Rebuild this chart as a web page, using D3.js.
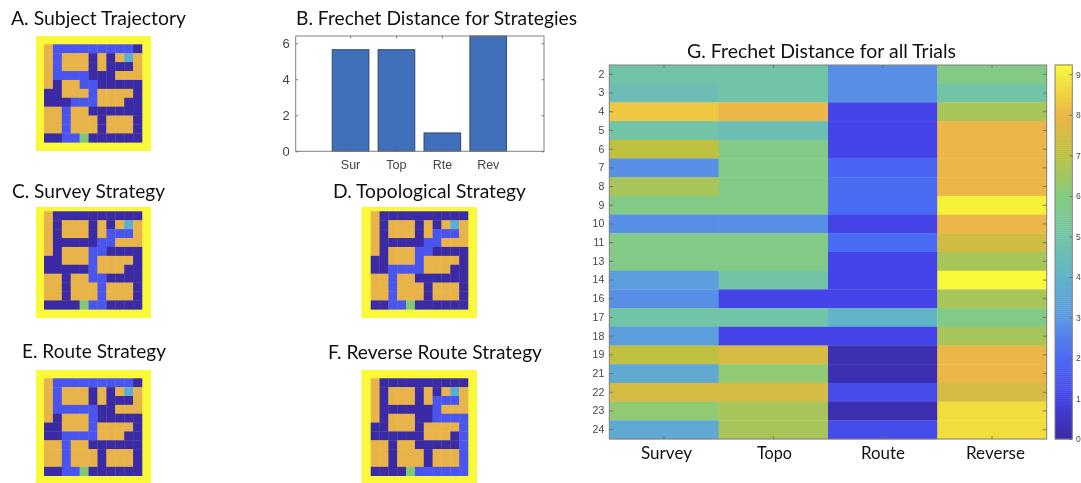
<!DOCTYPE html>
<html><head><meta charset="utf-8">
<script src="https://cdn.jsdelivr.net/npm/d3@7/dist/d3.min.js"></script>
<style>html,body{margin:0;padding:0;background:#fff;overflow:hidden}svg{display:block;filter:blur(.4px)}
.ax text{font-family:"Liberation Sans",Arial,sans-serif;fill:#444}
.ttl{font-family:Lato,sans-serif;fill:#111}</style>
</head><body><svg id="c" width="1081" height="483"></svg>
<script>
// ---- data ----
const baseMap = [
 "ODDDDDDDDDD",
 "ODOOODODOGO",
 "ODOOODODDDO",
 "ODDDDDDDOOO",
 "ODOOODDDDDD",
 "DDOOODOOOOD",
 "DDDDDDOOODD",
 "OODOODDDDDD",
 "OODOOODOOOD",
 "OODOOODOOOD",
 "DDDDSDDDDDD"];
// path runs: row, first column, last column
const pathA = [[0,1,9],[1,1,1],[2,1,1],[3,1,4],[4,4,5],[5,5,5],[6,3,5],[7,2,2],[8,2,2],[9,2,2],[10,2,3]];
const pathC = [[2,7,9],[3,6,7],[4,5,6],[5,5,5],[6,5,5],[7,5,6],[8,6,6],[9,6,6],[10,5,6]];
const pathD = [[2,7,9],[3,6,7],[4,5,6],[5,5,5],[6,2,5],[7,2,2],[8,2,2],[9,2,2],[10,2,3]];
const pathE = [[0,1,9],[1,1,1],[2,1,1],[3,1,5],[4,5,5],[5,5,5],[6,2,5],[7,2,2],[8,2,2],[9,2,2],[10,2,3]];
const pathF = [[2,7,9],[3,7,7],[4,7,10],[5,10,10],[6,10,10],[7,10,10],[8,10,10],[9,10,10],[10,5,10]];

const barCats = ["Sur","Top","Rte","Rev"];
const barVals = [5.64,5.64,1.02,6.4];
const barTicks = [0,2,4,6];

const trials = ["2","3","4","5","6","7","8","9","10","11","13","14","16","17","18","19","21","22","23","24"];
const strategies = ["Survey","Topo","Route","Reverse"];
const survey  = [5,4.6,8.3,5,7,2.8,6.6,5.8,2.8,5.8,5.8,3.2,2.8,5,3.2,7,3.6,7.5,6.2,3.6];
const topo    = [5,5,8,4.6,5.8,5.8,5.8,5.8,2.8,5.8,5.8,5,1,5,1,7.5,6.2,7.5,6.6,6.6];
const route   = [2.8,2.8,1,1,1,1.8,2,2,1,2,1,1,1,4,1,.2,.2,1.2,.2,1.2];
const reverse = [5.8,5,6.6,8,8,8,8,9.1,8,7.4,6.6,9.25,6.6,5.8,6.6,8,8,7.5,8.7,8.7];
const cbTicks = [0,1,2,3,4,5,6,7,8,9];
const cbStops = [0,1,2,3,4,5,6,7,8,9,9.25];
const cbCols = ["#3a2aa2","#4444e8","#4a6cf4","#5a98e2","#62b4c8","#72c4a6","#86cc7e","#bec040","#ecb648","#f4ee38","#f9f93a"];

// ---- helpers ----
const svg = d3.select("#c");
const cellCol = {O:"#e8b34a",D:"#3a2aa6",G:"#5aaed6",S:"#80c878",P:"#4a55f0"};
const mapCols = d3.range(11), mapRows = d3.range(11);

function drawMap(path, outer, inner){
  const g = svg.append("g");
  g.append("rect").attr("x",outer[0]).attr("y",outer[1]).attr("width",outer[2]-outer[0]).attr("height",outer[3]-outer[1]).attr("fill","#f9f93a");
  const x = d3.scaleBand().domain(mapCols).range([inner[0],inner[2]]);
  const y = d3.scaleBand().domain(mapRows).range([inner[1],inner[3]]);
  const cells = [];
  baseMap.forEach((r,ri)=>r.split("").forEach((k,ci)=>cells.push({ri,ci,k})));
  path.forEach(([r,a,b])=>d3.range(a,b+1).forEach(ci=>{ const c=cells.find(d=>d.ri===r&&d.ci===ci); if(c.k!=="S"&&c.k!=="G") c.k="P"; }));
  g.selectAll("rect.c").data(cells).join("rect").attr("class","c")
   .attr("x",d=>x(d.ci)).attr("y",d=>y(d.ri)).attr("width",x.bandwidth()+.3).attr("height",y.bandwidth()+.3)
   .attr("fill",d=>cellCol[d.k]);
}
function title(t,x0,x1,base,fs){
  svg.append("text").attr("class","ttl").attr("x",x0).attr("y",base).attr("font-size",fs)
    .attr("textLength",x1-x0).attr("lengthAdjust","spacingAndGlyphs").text(t);
}
function styleAxis(g,fs){
  g.attr("class","ax").attr("font-size",fs);
  g.selectAll("line").attr("stroke","#666").attr("stroke-width",.8);
  g.selectAll(".domain").remove();
  return g;
}
function frame(x0,y0,x1,y1){
  svg.append("rect").attr("x",x0).attr("y",y0).attr("width",x1-x0).attr("height",y1-y0)
    .attr("fill","none").attr("stroke","#808080").attr("stroke-width",1);
}

// ---- maps ----
drawMap(pathA,[36,36,151,151],[44,44.3,142,142.3]);
drawMap(pathC,[36,207,151,318],[44,211.3,142,309.3]);
drawMap(pathD,[361.5,207,477,318],[370.7,211.3,468,309.3]);
drawMap(pathE,[36,370,151,483],[44,378.3,142,475.7]);
drawMap(pathF,[361.5,370,477,483],[370.7,378.3,468,475.7]);

// ---- titles ----
title("A. Subject Trajectory",11,186,24.5,19.5);
title("B. Frechet Distance for Strategies",296,577,24.5,19.5);
title("C. Survey Strategy",12,165,197.5,19.5);
title("D. Topological Strategy",333,526,197.5,19.5);
title("E. Route Strategy",22,166,357.5,19.5);
title("F. Reverse Route Strategy",328,542,359,19.5);
title("G. Frechet Distance for all Trials",687,956,58,19.5);

// ---- bar chart ----
const bx = d3.scaleBand().domain(barCats).range([327.6,511.2]).paddingInner(.2).paddingOuter(.1);
const by = d3.scaleLinear().domain([0,6.4]).range([151.3,36]);
const bl = 295.7, br = 544;
svg.append("g").selectAll("rect").data(barVals).join("rect")
  .attr("x",(d,i)=>bx(barCats[i])).attr("width",bx.bandwidth())
  .attr("y",d=>by(d)).attr("height",d=>by(0)-by(d))
  .attr("fill","#3f70b9").attr("stroke","#2a3f66").attr("stroke-width",.9);
frame(bl,36,br,151.3);
styleAxis(svg.append("g").attr("transform",`translate(${bl},0)`).call(d3.axisLeft(by).tickValues(barTicks).tickSizeInner(-2.5).tickSizeOuter(0).tickPadding(6).tickFormat(d3.format("d"))),13);
styleAxis(svg.append("g").attr("transform",`translate(${br},0)`).call(d3.axisRight(by).tickValues(barTicks).tickSizeInner(-2.5).tickSizeOuter(0).tickFormat("")),13);
styleAxis(svg.append("g").attr("transform",`translate(0,${by(0)})`).call(d3.axisBottom(bx).tickSizeInner(-2.5).tickSizeOuter(0).tickPadding(9)),12.5);
styleAxis(svg.append("g").attr("transform",`translate(0,36)`).call(d3.axisTop(bx).tickSizeInner(-2.5).tickSizeOuter(0).tickFormat("")),12);

// ---- heatmap ----
const hx = d3.scaleBand().domain(strategies).range([609.3,1046.7]);
const hy = d3.scaleBand().domain(trials).range([65,439]);
const color = d3.scaleLinear().domain(cbStops).range(cbCols).clamp(true);
const columns = [survey,topo,route,reverse];
const hm = svg.append("g");
columns.forEach((vals,c)=>{
  hm.selectAll(null).data(vals).join("rect")
    .attr("x",hx(strategies[c])).attr("y",(d,i)=>hy(trials[i]))
    .attr("width",hx.bandwidth()+.3).attr("height",hy.bandwidth()+.3)
    .attr("fill",d=>color(d));
});
frame(609.3,65,1046.7,439);
styleAxis(svg.append("g").attr("transform","translate(609.3,0)").call(d3.axisLeft(hy).tickSizeInner(-4).tickSizeOuter(0).tickPadding(5)),10.5);
styleAxis(svg.append("g").attr("transform","translate(1046.7,0)").call(d3.axisRight(hy).tickSizeInner(-4).tickSizeOuter(0).tickFormat("")),11);
styleAxis(svg.append("g").attr("transform","translate(0,65)").call(d3.axisTop(hx).tickSizeInner(-3).tickSizeOuter(0).tickFormat("")),11);
const hb = styleAxis(svg.append("g").attr("transform","translate(0,439)").call(d3.axisBottom(hx).tickSizeInner(-3).tickSizeOuter(0)),11);
hb.selectAll("text").remove();
strategies.forEach((s,i)=>{
  const ext=[[641,692],[757,792],[861,905],[966,1025]][i];
  title(s,ext[0],ext[1],459,18);
});

// ---- colour bar ----
const cy = d3.scaleLinear().domain([0,9.23]).range([439,65]);
const cbx0 = 1055, cbx1 = 1072.3;
svg.append("g").selectAll("rect").data(d3.range(0,9.23,.05)).join("rect")
  .attr("x",cbx0).attr("width",cbx1-cbx0).attr("y",d=>cy(d+.05)).attr("height",d=>cy(d)-cy(d+.05)+.4)
  .attr("fill",d=>color(d));
frame(cbx0,65,cbx1,439);
styleAxis(svg.append("g").attr("transform",`translate(${cbx1},0)`).call(d3.axisRight(cy).tickValues(cbTicks).tickSizeInner(-3).tickSizeOuter(0).tickPadding(3.8).tickFormat(d3.format("d"))),8.5);
</script></body></html>
